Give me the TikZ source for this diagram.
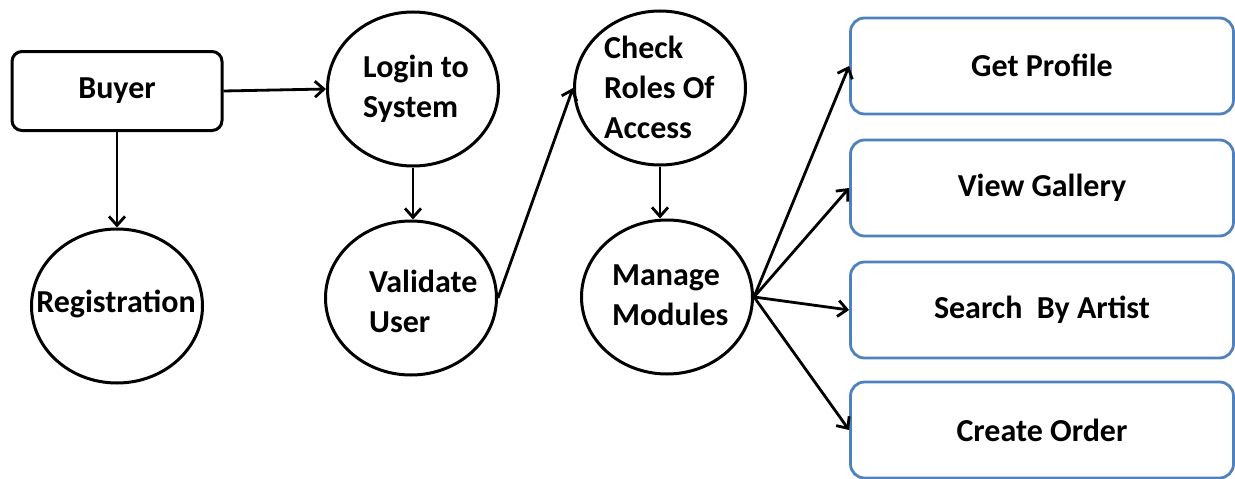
\documentclass[tikz,border=0pt]{standalone}
\usepackage{fontspec}
\setmainfont{Carlito}
\usetikzlibrary{arrows.meta,shapes.geometric}
\definecolor{boxblue}{RGB}{79,129,189}
\begin{document}
\begin{tikzpicture}[x=1pt,y=-1pt,
  proc/.style={ellipse, draw, line width=3pt, minimum width=171pt, minimum height=154pt, inner sep=0pt},
  actor/.style={draw, rounded corners=10pt, line width=3pt, minimum width=210pt, minimum height=79pt, font=\fontsize{32}{40}\selectfont\bfseries},
  func/.style={draw=boxblue, rounded corners=14pt, line width=2.8pt, minimum width=383pt, minimum height=96pt, font=\fontsize{32}{40}\selectfont\bfseries},
  lbl/.style={font=\fontsize{32}{40}\selectfont\bfseries, align=left, inner sep=0pt},
  arr/.style={-{Straight Barb[length=9pt,width=16pt]}, line width=2.8pt}]
\useasboundingbox (0,0) rectangle (1235,479);

\node[actor] (buyer) at (117,91) {Buyer};
\node[proc] (reg) at (117,306) {};
\node[proc] (login) at (413,89) {};
\node[proc] (valid) at (411,298) {};
\node[proc] (check) at (660,88) {};
\node[proc] (manage) at (667,297) {};

\node[lbl, anchor=center] (regt) at (116,304) {Registration};
\node[lbl, anchor=west] (logint) at (363,89) {Login to\\System};
\node[lbl, anchor=west] (validt) at (369,301) {Validate\\User};
\node[lbl, anchor=west] (checkt) at (604,87) {Check\\Roles Of\\Access};
\node[lbl, anchor=west] (managet) at (612,295) {Manage\\Modules};

\node[func] (gp) at (1042,66) {\raisebox{2pt}{Get Profile}};
\node[func] (vg) at (1042,188) {\raisebox{-2pt}{View Gallery}};
\node[func] (sa) at (1042,310) {Search\ \ By Artist};
\node[func] (co) at (1042,430) {\raisebox{-2pt}{Create Order}};

\draw[arr] (buyer.east) -- (login.west);
\draw[arr] (buyer.south) -- (reg.north);
\draw[arr] (login.south) -- (login.south |- valid.north);
\draw[arr] (valid.east) -- (check.west);
\draw[arr] (check.south) -- (check.south |- manage.north);
\coordinate (mm) at (manage.east);
\draw[arr] (mm) -- (gp.west);
\draw[arr] (mm) -- (vg.west);
\draw[arr] (mm) -- (sa.west);
\draw[arr] (mm) -- (co.west);
\end{tikzpicture}
\end{document}
